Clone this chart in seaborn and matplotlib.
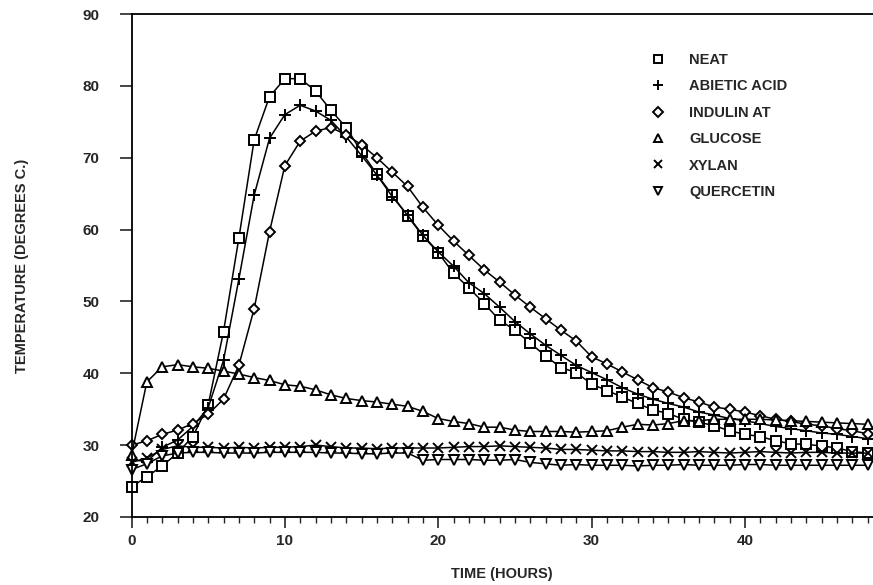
import numpy as np
import pandas as pd
import matplotlib
matplotlib.use("Agg")
import matplotlib.pyplot as plt
from matplotlib.lines import Line2D
from matplotlib.ticker import MultipleLocator
from matplotlib import font_manager
import seaborn as sns

hours = list(range(0, 49))

neat = [24.2, 25.6, 27.1, 28.9, 31.2, 35.6, 45.8, 58.8, 72.5, 78.5,
        81.0, 81.0, 79.3, 76.6, 74.2, 70.8, 67.7, 64.8, 61.9, 59.1,
        56.8, 53.9, 51.9, 49.7, 47.4, 46.0, 44.2, 42.4, 40.8, 40.1,
        38.5, 37.6, 36.7, 35.8, 34.9, 34.4, 33.6, 33.2, 32.7, 32.0,
        31.5, 31.2, 30.6, 30.2, 30.1, 29.9, 29.6, 29.1, 28.9]
abietic = [28.0, 27.7, 29.7, 30.7, 32.6, 35.2, 41.8, 53.1, 64.8, 72.7,
           76.0, 77.3, 76.5, 75.2, 72.9, 70.3, 67.6, 64.6, 62.0, 59.2,
           56.9, 54.9, 52.6, 51.1, 49.2, 47.2, 45.5, 43.9, 42.5, 41.1,
           40.1, 39.1, 38.0, 37.1, 36.4, 35.8, 35.3, 34.6, 34.2, 33.7,
           33.4, 33.0, 32.6, 32.3, 32.0, 31.7, 31.5, 31.2, 30.9]
indulin = [30.0, 30.6, 31.5, 32.1, 33.0, 34.3, 36.4, 41.1, 49.0, 59.7,
           68.9, 72.3, 73.7, 74.2, 73.2, 71.8, 70.0, 68.0, 66.0, 63.1,
           60.6, 58.4, 56.4, 54.4, 52.7, 50.9, 49.2, 47.6, 46.0, 44.5,
           42.3, 41.3, 40.2, 39.1, 38.0, 37.4, 36.6, 36.0, 35.3, 35.0,
           34.6, 34.1, 33.6, 33.3, 32.9, 32.7, 32.3, 32.0, 31.6]
glucose = [28.6, 38.8, 40.9, 41.2, 40.9, 40.7, 40.3, 39.9, 39.4, 39.0,
           38.4, 38.2, 37.7, 37.0, 36.5, 36.2, 36.0, 35.7, 35.4, 34.7,
           33.7, 33.3, 33.0, 32.5, 32.5, 32.1, 31.9, 31.9, 31.9, 31.8,
           31.9, 32.0, 32.5, 32.9, 32.8, 33.0, 33.4, 33.4, 33.6, 33.6,
           33.6, 33.6, 33.5, 33.4, 33.3, 33.2, 33.1, 33.0, 32.9]
xylan = [27.6, 28.2, 29.4, 29.9, 29.7, 29.7, 29.6, 29.7, 29.6, 29.7,
         29.7, 29.8, 30.0, 29.8, 29.6, 29.6, 29.5, 29.6, 29.6, 29.6,
         29.6, 29.7, 29.8, 29.8, 29.9, 29.8, 29.7, 29.6, 29.4, 29.4,
         29.3, 29.2, 29.2, 29.1, 29.1, 29.0, 29.0, 29.1, 29.0, 28.9,
         29.0, 29.1, 29.0, 28.9, 29.0, 29.0, 28.9, 28.9, 28.9]
quercetin = [26.6, 27.4, 28.5, 28.9, 29.0, 29.0, 28.9, 28.9, 28.9, 29.0,
             29.0, 29.0, 29.0, 28.9, 28.9, 28.8, 28.8, 28.9, 28.9, 27.9,
             28.0, 28.0, 28.0, 27.9, 27.9, 28.0, 27.6, 27.4, 27.2, 27.3,
             27.2, 27.2, 27.2, 27.1, 27.2, 27.2, 27.3, 27.2, 27.2, 27.2,
             27.3, 27.3, 27.2, 27.2, 27.2, 27.2, 27.2, 27.2, 27.2]

names = ["NEAT", "ABIETIC ACID", "INDULIN AT", "GLUCOSE", "XYLAN", "QUERCETIN"]
series = [neat, abietic, indulin, glucose, xylan, quercetin]
markers = ["s", "+", "D", "^", "x", "v"]
msizes = [7.5, 8.5, 5.5, 7, 7, 7]

sns.set_style("ticks")
names_avail = {f.name for f in font_manager.fontManager.ttflist}
fam = "Liberation Sans" if "Liberation Sans" in names_avail else "DejaVu Sans"
plt.rcParams["font.family"] = [fam, "DejaVu Sans"]
plt.rcParams["font.weight"] = "bold"

fig = plt.figure(figsize=(8.73, 5.85), dpi=100)
ax = fig.add_axes([131.5 / 873, 1 - 517 / 585, (873 - 131.5) / 873, (517 - 14) / 585])

for name, vals, m, ms in zip(names, series, markers, msizes):
    df = pd.DataFrame({"t": hours, "T": vals})
    sns.lineplot(data=df, x="t", y="T", ax=ax, color="black", lw=1.1,
                 marker=m, markersize=ms, markerfacecolor="white",
                 markeredgecolor="black", markeredgewidth=1.4,
                 label=name, clip_on=False)

ax.set_xlim(0, 48.35)
ax.set_ylim(20, 90)
ax.xaxis.set_major_locator(MultipleLocator(10))
ax.xaxis.set_minor_locator(MultipleLocator(1))
ax.yaxis.set_major_locator(MultipleLocator(10))
ax.tick_params(axis="x", which="major", direction="out", length=8, width=1.2,
               pad=4, labelsize=11)
ax.tick_params(axis="x", which="minor", direction="out", length=4, width=1.0)
ax.tick_params(axis="y", which="major", direction="out", length=9, width=1.2,
               pad=14, labelsize=11)
for lab in ax.get_xticklabels() + ax.get_yticklabels():
    lab.set_fontweight("bold")

for s in ["left", "bottom", "top"]:
    ax.spines[s].set_linewidth(1.3)
    ax.spines[s].set_color("black")
ax.spines["right"].set_visible(False)

ax.set_xlabel("TIME (HOURS)", fontsize=10.5, fontweight="bold")
ax.set_ylabel("TEMPERATURE (DEGREES C.)", fontsize=10.5, fontweight="bold")
ax.xaxis.set_label_coords(0.5, -(567 - 517) / 503)
ax.yaxis.set_label_coords(-(131.5 - 29) / 741.5, 0.5)

handles = [Line2D([], [], linestyle="none", marker=m, markersize=ms * 0.85,
                  markerfacecolor="white", markeredgecolor="black",
                  markeredgewidth=1.4) for m, ms in zip(markers, msizes)]
ax.legend(handles, names, loc="upper left",
          bbox_to_anchor=((651 - 131.5) / 741.5, (517 - 53) / 503),
          frameon=False, handlelength=1.0, handletextpad=1.6,
          borderpad=0, borderaxespad=0, labelspacing=0.85,
          prop={"weight": "bold", "size": 10.5})

fig.savefig("out.png", dpi=100)
